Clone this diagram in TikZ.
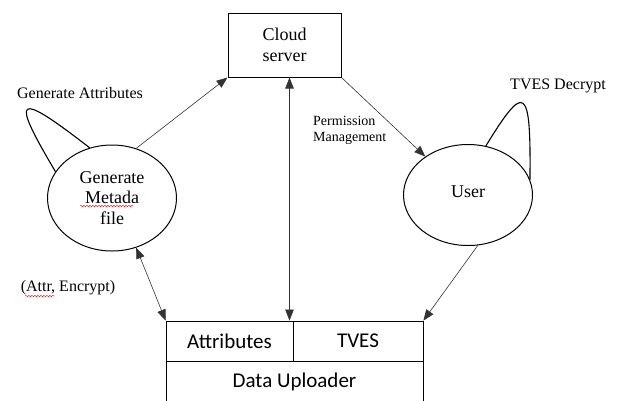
\documentclass[tikz,border=0pt]{standalone}
\usepackage{fontspec}
\setmainfont{Liberation Serif}
\newfontfamily\boxfont{Carlito}
\usepackage{tikz}
\usetikzlibrary{arrows.meta, positioning, shapes.geometric, calc, decorations.pathmorphing}
\definecolor{linkgray}{HTML}{333333}

\begin{document}
\begin{tikzpicture}[x=1pt, y=-1pt,
    proc/.style={ellipse, draw, line width=1pt, inner sep=0pt, align=center, font=\fontsize{18}{20.5}\selectfont},
    store/.style={rectangle, draw, line width=0.8pt, inner sep=0pt, font=\boxfont\fontsize{21}{24}\selectfont},
    link/.style={draw=linkgray, line width=0.6pt},
    onearrow/.style={-{Triangle[length=11pt,width=8.5pt]}},
    twoarrow/.style={{Triangle[length=11pt,width=8.5pt]}-{Triangle[length=11pt,width=8.5pt]}},
    selfloop/.style={line width=1.1pt},
    note/.style={font=\fontsize{16}{19}\selectfont, inner sep=0pt},
    squiggle/.style={red, line width=0.4pt, decorate, decoration={snake, amplitude=0.8pt, segment length=3pt}}]
    \useasboundingbox (0,0) rectangle (617,400);

    % ===== Cloud server =====
    \node[rectangle, draw, line width=1pt, minimum width=113pt, minimum height=64pt, align=center,
          font=\fontsize{18}{21}\selectfont] (cloud) at (284.5,45) {Cloud\\server};

    % ===== Processes =====
    \node[proc, minimum width=129pt, minimum height=106pt] (gen) at (112,198) {Generate\\Metada\\file};
    \node[proc, minimum width=129pt, minimum height=101pt] (user) at (468,195) {\raisebox{7pt}{User}};

    % ===== Data uploader table =====
    \node[store, minimum width=127pt, minimum height=40pt] (attr) at (229.5,341) {Attributes};
    \node[store, minimum width=130pt, minimum height=40pt] (tves) at (358,341) {TVES};
    \node[store, minimum width=257pt, minimum height=41pt] (upl) at (294.5,381.5) {Data Uploader};

    % Flows
    \draw[link, onearrow] (gen.64) -- (cloud.south west);
    \draw[link, onearrow] (cloud.south east) -- (user.138);
    \draw[link, twoarrow] ([xshift=5pt]cloud.south) -- ([xshift=5pt]cloud.south |- attr.north);
    \draw[link, twoarrow] (gen.296) -- (attr.north west);
    \draw[link, onearrow] (user.281) -- (tves.north east);

    % Self loops
    \draw[selfloop] (gen.155) .. controls (10,95) and (15,90) .. (gen.114);
    \draw[selfloop] (user.70) .. controls (525,82) and (531,85) .. (user.14);

    % Labels
    \node[note] (genattr) at (80,93) {Generate Attributes};
    \node[note] (tvesdec) at (558,86) {TVES Decrypt};
    \node[note] (attrenc) at (68,288) {(Attr, Encrypt)};
    \node[note, font=\fontsize{14}{16}\selectfont, align=left, anchor=west] (perm) at (313,130) {Permission\\Management};

    % Spell-check marks
    \draw[squiggle] (80,206) -- (134,206);
    \draw[squiggle] (25,296) -- (55,296);
\end{tikzpicture}
\end{document}
